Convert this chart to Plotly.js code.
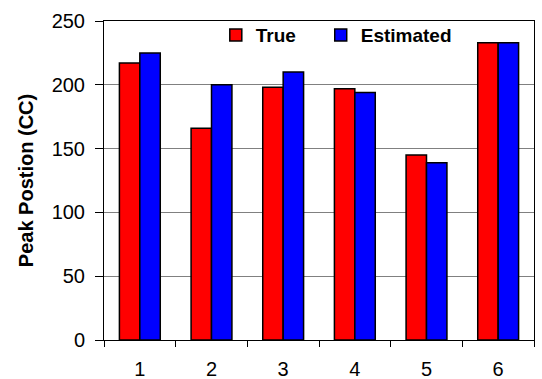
<!DOCTYPE html>
<html>
<head>
<meta charset="utf-8">
<script src="https://cdn.plot.ly/plotly-3.0.1.min.js"></script>
<style>html,body{margin:0;padding:0;background:#fff;}#chart{width:542px;height:379px;}</style>
</head>
<body>
<div id="chart"></div>
<script>
var categories = ["1", "2", "3", "4", "5", "6"];
var trueValues = [217, 166, 198, 197, 145, 233];
var estimatedValues = [225, 200, 210, 194, 139, 233];
var yTickValues = [0, 50, 100, 150, 200, 250];

var FONT = "Arial, 'Liberation Sans', sans-serif";

var traces = [
  {type: "bar", name: "True", x: categories, y: trueValues, legend: "legend",
   marker: {color: "#ff0000", line: {color: "#000000", width: 1.5}}},
  {type: "bar", name: "Estimated", x: categories, y: estimatedValues, legend: "legend2",
   marker: {color: "#0000ff", line: {color: "#000000", width: 1.5}}}
];

var legendFont = {family: FONT, size: 19, color: "#000", weight: "bold"};

var layout = {
  width: 542, height: 379,
  margin: {l: 104, r: 8, t: 21, b: 39, pad: 0},
  paper_bgcolor: "#ffffff", plot_bgcolor: "#ffffff",
  font: {family: FONT, size: 20, color: "#000000"},
  barmode: "group", bargap: 0.43, bargroupgap: 0,
  showlegend: true,
  legend: {orientation: "h", x: 0.26, xanchor: "left", y: 1.015, yanchor: "top",
           bgcolor: "rgba(0,0,0,0)", font: legendFont, itemwidth: 30},
  legend2: {orientation: "h", x: 0.504, xanchor: "left", y: 1.015, yanchor: "top",
           bgcolor: "rgba(0,0,0,0)", font: legendFont, itemwidth: 30},
  xaxis: {type: "category", tickson: "boundaries", ticks: "outside", ticklen: 6, tickwidth: 1,
          tickcolor: "#000", showline: true, linecolor: "#000", linewidth: 1, mirror: true,
          showgrid: false, tickfont: {family: FONT, size: 20}, ticklabelstandoff: 11,
          automargin: false, fixedrange: true},
  yaxis: {range: [0, 250], tickvals: yTickValues, ticks: "outside", ticklen: 8, tickwidth: 1,
          tickcolor: "#000", showline: true, linecolor: "#000", linewidth: 1, mirror: true,
          showgrid: true, gridcolor: "#808080", gridwidth: 1, zeroline: false,
          tickfont: {family: FONT, size: 20}, ticklabelstandoff: 6, automargin: false,
          title: {text: "Peak Postion (CC)", font: {family: FONT, size: 20, weight: "bold"}, standoff: 12},
          fixedrange: true}
};

Plotly.newPlot("chart", traces, layout, {staticPlot: true, displayModeBar: false});
</script>
</body>
</html>
